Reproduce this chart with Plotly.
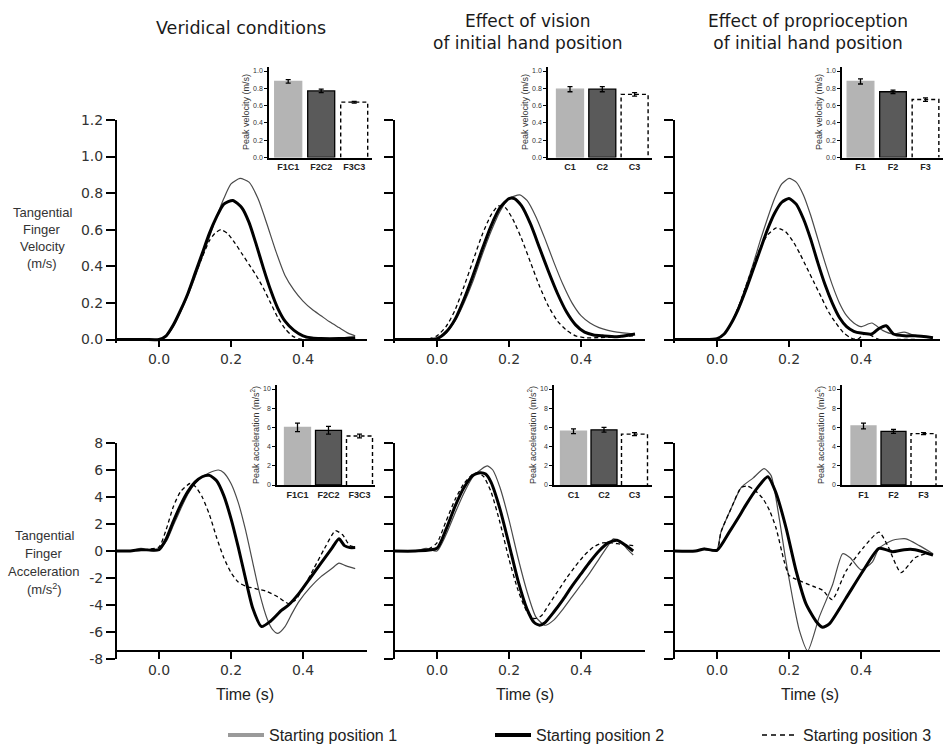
import plotly.graph_objects as go

W, H = 952, 748

# ---------------- tick labels / text ----------------
time_ticks = [0.0, 0.2, 0.4]
time_labels = ["0.0", "0.2", "0.4"]
vel_ticks = [0.0, 0.2, 0.4, 0.6, 0.8, 1.0, 1.2]
vel_labels = ["0.0", "0.2", "0.4", "0.6", "0.8", "1.0", "1.2"]
acc_ticks = [-8, -6, -4, -2, 0, 2, 4, 6, 8]
acc_labels = ["-8", "-6", "-4", "-2", "0", "2", "4", "6", "8"]
column_titles = ["Veridical conditions",
                 "Effect of vision<br>of initial hand position",
                 "Effect of proprioception<br>of initial hand position"]
series_names = ["Starting position 1", "Starting position 2", "Starting position 3"]

# ---------------- velocity curves (m/s) ----------------
v1_p1_t = [-0.12, -0.08, -0.04, 0.0, 0.02, 0.04, 0.06, 0.08, 0.1, 0.12, 0.14, 0.16, 0.18, 0.2, 0.225, 0.25, 0.275, 0.3, 0.325, 0.35, 0.375, 0.4, 0.425, 0.45, 0.475, 0.5, 0.525, 0.545]
v1_p1_v = [0.0, 0.0, 0.0, 0.0, 0.02, 0.07, 0.15, 0.24, 0.34, 0.45, 0.56, 0.67, 0.77, 0.85, 0.88, 0.86, 0.77, 0.63, 0.48, 0.35, 0.27, 0.21, 0.165, 0.13, 0.095, 0.065, 0.035, 0.02]
v1_p2_t = [-0.12, -0.04, 0.0, 0.02, 0.04, 0.06, 0.08, 0.1, 0.12, 0.14, 0.16, 0.18, 0.205, 0.23, 0.25, 0.27, 0.29, 0.31, 0.33, 0.35, 0.375, 0.4, 0.425, 0.45, 0.5, 0.545]
v1_p2_v = [0.0, 0.0, 0.0, 0.02, 0.08, 0.16, 0.25, 0.36, 0.47, 0.58, 0.67, 0.74, 0.76, 0.72, 0.64, 0.52, 0.39, 0.27, 0.17, 0.10, 0.05, 0.02, 0.008, 0.005, 0.005, 0.01]
v1_p3_t = [-0.12, -0.04, 0.0, 0.02, 0.04, 0.06, 0.08, 0.1, 0.12, 0.14, 0.155, 0.172, 0.19, 0.21, 0.23, 0.25, 0.27, 0.29, 0.31, 0.33, 0.35, 0.37, 0.39, 0.41, 0.45, 0.5, 0.545]
v1_p3_v = [0.0, 0.0, 0.0, 0.02, 0.08, 0.16, 0.25, 0.35, 0.45, 0.54, 0.58, 0.60, 0.58, 0.53, 0.47, 0.41, 0.35, 0.28, 0.20, 0.12, 0.06, 0.02, 0.003, 0.0, 0.0, 0.0, 0.0]
v2_p1_t = [-0.12, -0.04, 0.0, 0.025, 0.05, 0.075, 0.1, 0.125, 0.15, 0.175, 0.2, 0.23, 0.25, 0.275, 0.3, 0.325, 0.35, 0.375, 0.4, 0.425, 0.45, 0.475, 0.5, 0.55]
v2_p1_v = [0.0, 0.0, 0.005, 0.035, 0.10, 0.20, 0.32, 0.46, 0.59, 0.70, 0.77, 0.79, 0.76, 0.67, 0.55, 0.42, 0.30, 0.20, 0.13, 0.09, 0.065, 0.05, 0.04, 0.03]
v2_p2_t = [-0.12, -0.04, 0.0, 0.025, 0.05, 0.075, 0.1, 0.125, 0.15, 0.175, 0.2, 0.215, 0.235, 0.26, 0.285, 0.31, 0.335, 0.36, 0.385, 0.41, 0.435, 0.46, 0.5, 0.55]
v2_p2_v = [0.0, 0.0, 0.005, 0.04, 0.11, 0.22, 0.35, 0.49, 0.62, 0.72, 0.77, 0.77, 0.73, 0.63, 0.50, 0.37, 0.25, 0.15, 0.08, 0.04, 0.025, 0.02, 0.015, 0.03]
v2_p3_t = [-0.12, -0.04, -0.02, 0.0, 0.025, 0.05, 0.075, 0.1, 0.125, 0.15, 0.17, 0.19, 0.21, 0.235, 0.26, 0.285, 0.31, 0.335, 0.36, 0.385, 0.41, 0.45, 0.5, 0.55]
v2_p3_v = [0.0, 0.0, 0.005, 0.02, 0.07, 0.16, 0.29, 0.43, 0.57, 0.68, 0.73, 0.72, 0.66, 0.55, 0.42, 0.29, 0.18, 0.10, 0.05, 0.02, 0.01, 0.01, 0.015, 0.02]
v3_p1_t = [-0.12, -0.04, 0.0, 0.02, 0.04, 0.06, 0.08, 0.1, 0.12, 0.14, 0.16, 0.18, 0.2, 0.22, 0.24, 0.26, 0.28, 0.3, 0.32, 0.34, 0.36, 0.38, 0.4, 0.43, 0.46, 0.49, 0.52, 0.55]
v3_p1_v = [0.0, 0.0, 0.005, 0.03, 0.09, 0.18, 0.29, 0.41, 0.54, 0.66, 0.77, 0.85, 0.88, 0.86, 0.79, 0.68, 0.55, 0.42, 0.30, 0.20, 0.13, 0.09, 0.07, 0.09, 0.05, 0.03, 0.04, 0.02]
v3_p2_t = [-0.12, -0.04, 0.0, 0.02, 0.04, 0.06, 0.08, 0.1, 0.12, 0.14, 0.16, 0.18, 0.2, 0.22, 0.24, 0.26, 0.28, 0.3, 0.32, 0.34, 0.36, 0.38, 0.4, 0.43, 0.45, 0.47, 0.49, 0.52, 0.55, 0.6]
v3_p2_v = [0.0, 0.0, 0.005, 0.03, 0.09, 0.17, 0.27, 0.38, 0.49, 0.60, 0.69, 0.75, 0.77, 0.74, 0.66, 0.55, 0.42, 0.30, 0.20, 0.12, 0.07, 0.045, 0.035, 0.03, 0.06, 0.075, 0.03, 0.02, 0.02, 0.01]
v3_p3_t = [-0.12, -0.04, 0.0, 0.02, 0.04, 0.06, 0.08, 0.1, 0.12, 0.14, 0.165, 0.19, 0.21, 0.23, 0.25, 0.27, 0.29, 0.31, 0.33, 0.35, 0.37, 0.39, 0.41, 0.43, 0.45, 0.5, 0.55]
v3_p3_v = [0.0, 0.0, 0.005, 0.03, 0.09, 0.18, 0.29, 0.40, 0.50, 0.57, 0.61, 0.59, 0.54, 0.47, 0.39, 0.31, 0.23, 0.15, 0.09, 0.04, 0.01, 0.0, 0.03, 0.02, 0.0, 0.0, 0.0]

# ---------------- acceleration curves (m/s^2) ----------------
a1_p1_t = [-0.12, -0.08, -0.05, -0.02, 0.0, 0.02, 0.04, 0.06, 0.08, 0.1, 0.12, 0.14, 0.165, 0.18, 0.2, 0.22, 0.24, 0.26, 0.28, 0.3, 0.315, 0.33, 0.35, 0.37, 0.39, 0.42, 0.45, 0.48, 0.5, 0.52, 0.545]
a1_p1_v = [0.0, 0.0, 0.2, 0.0, 0.1, 0.7, 1.9, 3.1, 4.2, 5.0, 5.5, 5.8, 6.0, 5.8, 5.0, 3.6, 1.6, -0.8, -3.2, -5.0, -5.8, -6.1, -5.6, -4.6, -3.7, -2.7, -1.9, -1.3, -0.9, -1.1, -1.3]
a1_p2_t = [-0.12, -0.08, -0.05, 0.0, 0.02, 0.04, 0.06, 0.08, 0.1, 0.12, 0.14, 0.16, 0.18, 0.2, 0.22, 0.24, 0.26, 0.285, 0.31, 0.34, 0.36, 0.39, 0.42, 0.45, 0.48, 0.5, 0.515, 0.53, 0.545]
a1_p2_v = [0.0, 0.0, 0.1, 0.1, 0.9, 2.2, 3.4, 4.4, 5.1, 5.5, 5.6, 5.2, 4.1, 2.4, 0.3, -2.0, -4.2, -5.6, -5.2, -4.4, -4.0, -3.1, -2.0, -0.9, 0.2, 0.9, 0.4, 0.25, 0.25]
a1_p3_t = [-0.12, -0.08, -0.04, 0.0, 0.02, 0.04, 0.06, 0.086, 0.1, 0.12, 0.14, 0.16, 0.18, 0.2, 0.22, 0.24, 0.27, 0.3, 0.33, 0.36, 0.38, 0.4, 0.43, 0.46, 0.49, 0.51, 0.53, 0.545]
a1_p3_v = [0.0, 0.0, 0.1, 0.3, 1.6, 3.3, 4.4, 5.0, 4.8, 4.0, 2.7, 1.0, -0.5, -1.6, -2.3, -2.6, -2.8, -3.0, -3.4, -3.9, -3.6, -2.8, -1.3, 0.2, 1.5, 1.2, 0.4, 0.3]
a2_p1_t = [-0.12, -0.06, -0.03, 0.0, 0.025, 0.05, 0.075, 0.1, 0.125, 0.14, 0.155, 0.175, 0.2, 0.225, 0.25, 0.275, 0.3, 0.325, 0.35, 0.375, 0.4, 0.425, 0.45, 0.475, 0.49, 0.51, 0.53, 0.545]
a2_p1_v = [0.0, 0.0, 0.2, 0.0, 1.2, 2.8, 4.3, 5.5, 6.1, 6.3, 6.0, 4.7, 2.3, -0.5, -3.0, -4.9, -5.5, -5.1, -4.3, -3.4, -2.5, -1.6, -0.6, 0.4, 0.9, 0.7, 0.1, -0.3]
a2_p2_t = [-0.12, -0.06, 0.0, 0.025, 0.05, 0.075, 0.1, 0.12, 0.135, 0.15, 0.175, 0.2, 0.225, 0.25, 0.27, 0.285, 0.3, 0.325, 0.35, 0.375, 0.4, 0.425, 0.45, 0.475, 0.5, 0.525, 0.545]
a2_p2_v = [0.0, 0.0, 0.2, 1.6, 3.3, 4.7, 5.6, 5.8, 5.7, 5.1, 3.1, 0.5, -2.2, -4.3, -5.3, -5.5, -5.3, -4.5, -3.6, -2.6, -1.7, -0.8, 0.0, 0.6, 0.8, 0.4, 0.0]
a2_p3_t = [-0.12, -0.06, -0.02, 0.0, 0.025, 0.05, 0.075, 0.1, 0.115, 0.13, 0.15, 0.175, 0.2, 0.225, 0.25, 0.27, 0.29, 0.31, 0.335, 0.36, 0.385, 0.41, 0.435, 0.46, 0.485, 0.51, 0.545]
a2_p3_v = [0.0, 0.0, 0.2, 0.6, 2.2, 3.8, 5.0, 5.7, 5.8, 5.5, 4.4, 2.1, -0.6, -2.9, -4.5, -5.0, -4.8, -4.0, -3.0, -2.0, -1.1, -0.3, 0.3, 0.6, 0.6, 0.5, 0.4]
a3_p1_t = [-0.12, -0.06, -0.035, -0.01, 0.0, 0.011, 0.04, 0.067, 0.1, 0.131, 0.15, 0.173, 0.19, 0.21, 0.229, 0.252, 0.284, 0.321, 0.349, 0.37, 0.4, 0.432, 0.45, 0.488, 0.525, 0.562, 0.6]
a3_p1_v = [0.0, 0.0, 0.2, 0.0, 0.05, 1.4, 3.2, 4.7, 5.4, 6.1, 5.6, 2.4, -0.5, -3.5, -5.9, -7.4, -4.9, -2.5, -0.2, -0.5, -1.4, -0.8, 0.2, 0.8, 0.9, 0.4, -0.2]
a3_p2_t = [-0.12, -0.06, -0.035, 0.0, 0.034, 0.06, 0.08, 0.11, 0.141, 0.164, 0.192, 0.22, 0.247, 0.275, 0.293, 0.312, 0.358, 0.405, 0.45, 0.488, 0.52, 0.55, 0.6]
a3_p2_v = [0.0, 0.0, 0.15, 0.05, 1.4, 2.5, 3.4, 4.6, 5.5, 4.3, 1.7, -1.5, -3.9, -5.2, -5.65, -5.4, -3.5, -1.5, 0.2, -0.05, 0.1, 0.1, -0.3]
a3_p3_t = [-0.12, -0.06, -0.035, 0.0, 0.011, 0.04, 0.067, 0.085, 0.105, 0.127, 0.146, 0.164, 0.187, 0.2, 0.22, 0.266, 0.293, 0.32, 0.358, 0.405, 0.45, 0.474, 0.511, 0.55, 0.58]
a3_p3_v = [0.0, 0.0, 0.15, 0.05, 1.4, 3.2, 4.7, 4.8, 4.5, 3.9, 3.0, 1.7, -0.8, -1.8, -2.1, -2.6, -2.9, -3.6, -1.5, 0.2, 1.4, 0.4, -1.6, -0.5, -0.2]

# ---------------- inset bar data ----------------
inset_cats = [["F1C1", "F2C2", "F3C3"], ["C1", "C2", "C3"], ["F1", "F2", "F3"]]
peak_vel = [[0.88, 0.77, 0.64], [0.79, 0.79, 0.73], [0.88, 0.76, 0.67]]
peak_vel_err = [[0.02, 0.02, 0.01], [0.03, 0.03, 0.02], [0.03, 0.02, 0.02]]
peak_acc = [[6.0, 5.7, 5.1], [5.6, 5.75, 5.3], [6.15, 5.58, 5.35]]
peak_acc_err = [[0.45, 0.4, 0.2], [0.25, 0.25, 0.15], [0.3, 0.2, 0.1]]
inset_vel_ticks = [0.0, 0.2, 0.4, 0.6, 0.8, 1.0]
inset_vel_labels = ["0.0", "0.2", "0.4", "0.6", "0.8", "1.0"]
inset_acc_ticks = [0, 2, 4, 6, 8, 10]
inset_acc_labels = ["0", "2", "4", "6", "8", "10"]

# ---------------- layout geometry (pixels) ----------------
def ax_id(n):
    return ("x" if n == 1 else f"x{n}"), ("y" if n == 1 else f"y{n}")

def lay_name(n, a):
    return f"{a}axis" if n == 1 else f"{a}axis{n}"

T0 = [159, 437, 717]          # pixel of t = 0 per column
PXU = 360.0                   # pixels per second
XR = [[-0.1175, 0.578], [-0.1175, 0.578], [-0.1175, 0.62]]
TOP_Y0, TOP_PXU, TOP_YR = 339.5, 183.0, [-0.02, 1.2]
BOT_Y0, BOT_PXU, BOT_YR = 551.0, 13.5, [-8.0, 8.0]
BOT_AXIS_AT = -7.4

# insets: (y-axis px, first bar centre px, spacing px, bar width px, right px)
INS_TOP = [(269, 288.2, 33.0, 27, 372), (548, 570, 32.3, 27, 652), (842, 860.5, 32.5, 26.7, 943)]
INS_BOT = [(277, 297.5, 31.0, 26, 375), (554, 573.5, 30.5, 26, 652), (842, 863.5, 30.0, 25, 943)]
INS_TOP_Y = (157.5, 86.5, [0, 1.05])
INS_BOT_Y = (485.0, 9.6, [0, 10.4])

STY = [dict(color="#4a4a4a", width=1.2),
       dict(color="black", width=3.0),
       dict(color="black", width=1.3, dash="4px,3px")]

vel_curves = [[(v1_p1_t, v1_p1_v), (v1_p2_t, v1_p2_v), (v1_p3_t, v1_p3_v)],
              [(v2_p1_t, v2_p1_v), (v2_p2_t, v2_p2_v), (v2_p3_t, v2_p3_v)],
              [(v3_p1_t, v3_p1_v), (v3_p2_t, v3_p2_v), (v3_p3_t, v3_p3_v)]]
acc_curves = [[(a1_p1_t, a1_p1_v), (a1_p2_t, a1_p2_v), (a1_p3_t, a1_p3_v)],
              [(a2_p1_t, a2_p1_v), (a2_p2_t, a2_p2_v), (a2_p3_t, a2_p3_v)],
              [(a3_p1_t, a3_p1_v), (a3_p2_t, a3_p2_v), (a3_p3_t, a3_p3_v)]]

TICKFONT = dict(family="DejaVu Sans, Verdana, sans-serif", size=14, color="#333333")
SANS = "Liberation Sans, Arial, sans-serif"
fig = go.Figure()
layout = dict(width=W, height=H, margin=dict(l=0, r=0, t=0, b=0, autoexpand=False),
              paper_bgcolor="white", plot_bgcolor="rgba(0,0,0,0)")

# ---------------- main panels ----------------
for k in range(6):
    row, col = divmod(k, 3)
    n = k + 1
    xr, yr_ = ax_id(n)
    xrng = XR[col]
    x0 = T0[col] + xrng[0] * PXU
    x1 = T0[col] + xrng[1] * PXU
    if row == 0:
        ytop = TOP_Y0 - TOP_YR[1] * TOP_PXU
        ybot = TOP_Y0 - TOP_YR[0] * TOP_PXU
        axis_px = TOP_Y0
        yrange, tv, tt = TOP_YR, vel_ticks, vel_labels
        curves = vel_curves[col]
    else:
        ytop = BOT_Y0 - BOT_YR[1] * BOT_PXU
        ybot = BOT_Y0 - BOT_YR[0] * BOT_PXU
        axis_px = BOT_Y0 - BOT_AXIS_AT * BOT_PXU
        yrange, tv, tt = BOT_YR, acc_ticks, acc_labels
        curves = acc_curves[col]
    layout[lay_name(n, "x")] = dict(
        domain=[x0 / W, x1 / W], range=xrng, anchor="free", position=1 - axis_px / H,
        showline=True, linecolor="black", linewidth=1.5, ticks="outside", ticklen=7,
        tickwidth=1.5, tickcolor="black", tickvals=time_ticks, ticktext=time_labels,
        tickfont=TICKFONT, showgrid=False, zeroline=False, fixedrange=True)
    layout[lay_name(n, "y")] = dict(
        domain=[1 - ybot / H, 1 - ytop / H], range=yrange, anchor=xr,
        showline=True, linecolor="black", linewidth=1.5, ticks="outside", ticklen=9,
        tickwidth=1.5, tickcolor="black", tickvals=tv, ticktext=tt,
        showticklabels=(col == 0), tickfont=TICKFONT, showgrid=False, zeroline=False,
        fixedrange=True)
    for s in (0, 2, 1):
        t, v = curves[s]
        fig.add_trace(go.Scatter(x=t, y=v, xaxis=xr, yaxis=yr_, mode="lines",
                                 line=dict(shape="spline", smoothing=0.6, **STY[s]),
                                 showlegend=False, hoverinfo="skip"))

# ---------------- insets ----------------
for k in range(6):
    row, col = divmod(k, 3)
    n = 7 + k
    xr, yr_ = ax_id(n)
    yaxis_px, c0, sp, bw, right = (INS_TOP if row == 0 else INS_BOT)[col]
    y0px, ypxu, yrange = INS_TOP_Y if row == 0 else INS_BOT_Y
    vals = (peak_vel if row == 0 else peak_acc)[col]
    errs = (peak_vel_err if row == 0 else peak_acc_err)[col]
    cats = inset_cats[col]
    xrange = [(yaxis_px - c0) / sp, (right - c0) / sp]
    wd = bw / sp
    ytop = y0px - yrange[1] * ypxu
    layout[lay_name(n, "x")] = dict(
        domain=[yaxis_px / W, right / W], range=xrange, anchor=yr_,
        showline=True, linecolor="black", linewidth=1.5, ticks="",
        tickvals=[0, 1, 2], ticktext=cats,
        tickfont=dict(family=SANS, size=9, color="#222", weight="bold"),
        showgrid=False, zeroline=False, fixedrange=True)
    if row == 0:
        title = "Peak velocity (m/s)"
        tv, tt = inset_vel_ticks, inset_vel_labels
    else:
        title = "Peak acceleration (m/s<sup>2</sup>)"
        tv, tt = inset_acc_ticks, inset_acc_labels
    layout[lay_name(n, "y")] = dict(
        domain=[1 - y0px / H, 1 - ytop / H], range=yrange, anchor=xr,
        showline=True, linecolor="black", linewidth=1.5, ticks="outside", ticklen=3,
        tickwidth=1.2, tickcolor="black", tickvals=tv, ticktext=tt,
        tickfont=dict(family=SANS, size=7, color="#333"),
        title=dict(text=title, font=dict(family=SANS, size=9, color="#333"), standoff=2),
        showgrid=False, zeroline=False, fixedrange=True)
    fig.add_trace(go.Bar(x=[0, 1], y=vals[:2], width=wd, xaxis=xr, yaxis=yr_,
                         marker=dict(color=["#b4b4b4", "#5a5a5a"],
                                     line=dict(color=["#b4b4b4", "black"], width=1.3)),
                         error_y=dict(type="data", array=errs[:2], color="black", thickness=1.3, width=2.5),
                         showlegend=False, hoverinfo="skip"))
    fig.add_trace(go.Scatter(x=[2 - wd / 2, 2 - wd / 2, 2 + wd / 2, 2 + wd / 2],
                             y=[0, vals[2], vals[2], 0], xaxis=xr, yaxis=yr_, mode="lines",
                             line=dict(color="black", width=1.4, dash="4px,3px"),
                             showlegend=False, hoverinfo="skip"))
    fig.add_trace(go.Scatter(x=[2], y=[vals[2]], xaxis=xr, yaxis=yr_, mode="markers",
                             marker=dict(size=1, color="rgba(0,0,0,0)"),
                             error_y=dict(type="data", array=[errs[2]], color="black", thickness=1.3, width=2.5),
                             showlegend=False, hoverinfo="skip"))

# ---------------- legend (one per entry, placed side by side) ----------------
LEG_STY = [dict(color="#9a9a9a", width=4), dict(color="black", width=4),
           dict(color="black", width=1.5, dash="5px,4px")]
LEG_X = [223, 490, 757]
LEG_NAMES = ["legend", "legend2", "legend3"]
for s in range(3):
    fig.add_trace(go.Scatter(x=[None], y=[None], xaxis="x", yaxis="y", mode="lines",
                             name=series_names[s], line=LEG_STY[s], legend=LEG_NAMES[s]))
    layout[LEG_NAMES[s]] = dict(orientation="h", x=LEG_X[s] / W, xanchor="left",
                                y=1 - 735 / H, yanchor="middle", itemwidth=36,
                                font=dict(family=SANS, size=16, color="#222"),
                                bgcolor="rgba(0,0,0,0)")
layout["showlegend"] = True

# ---------------- annotations ----------------
ann = []
title_x = [241, 527, 808]
time_x = [245, 525, 810]
for col in range(3):
    ann.append(dict(text=column_titles[col], x=title_x[col] / W, y=1 - (28 if col == 0 else 32) / H,
                    xref="paper", yref="paper", showarrow=False, xanchor="center", yanchor="middle",
                    font=dict(family="DejaVu Sans, Verdana, sans-serif", size=17.5 if col == 0 else 17, color="#1a1a1a")))
    ann.append(dict(text="Time (s)", x=time_x[col] / W, y=1 - 694 / H,
                    xref="paper", yref="paper", showarrow=False, xanchor="center", yanchor="middle",
                    font=dict(family=SANS, size=16, color="#222")))
vel_title_lines = ["Tangential", "Finger", "Velocity", "(m/s)"]
acc_title_lines = ["Tangential", "Finger", "Acceleration", "(m/s<sup>2</sup>)"]
for i, s in enumerate(vel_title_lines):
    ann.append(dict(text=s, x=42 / W, y=1 - (212 + 17 * i) / H, xref="paper", yref="paper",
                    showarrow=False, xanchor="center", yanchor="middle",
                    font=dict(family=SANS, size=13, color="#333")))
for i, s in enumerate(acc_title_lines):
    ann.append(dict(text=s, x=44 / W, y=1 - (535 + 18 * i) / H, xref="paper", yref="paper",
                    showarrow=False, xanchor="center", yanchor="middle",
                    font=dict(family=SANS, size=13, color="#333")))
layout["annotations"] = ann

fig.update_layout(**layout)
fig.write_html("out.html")
